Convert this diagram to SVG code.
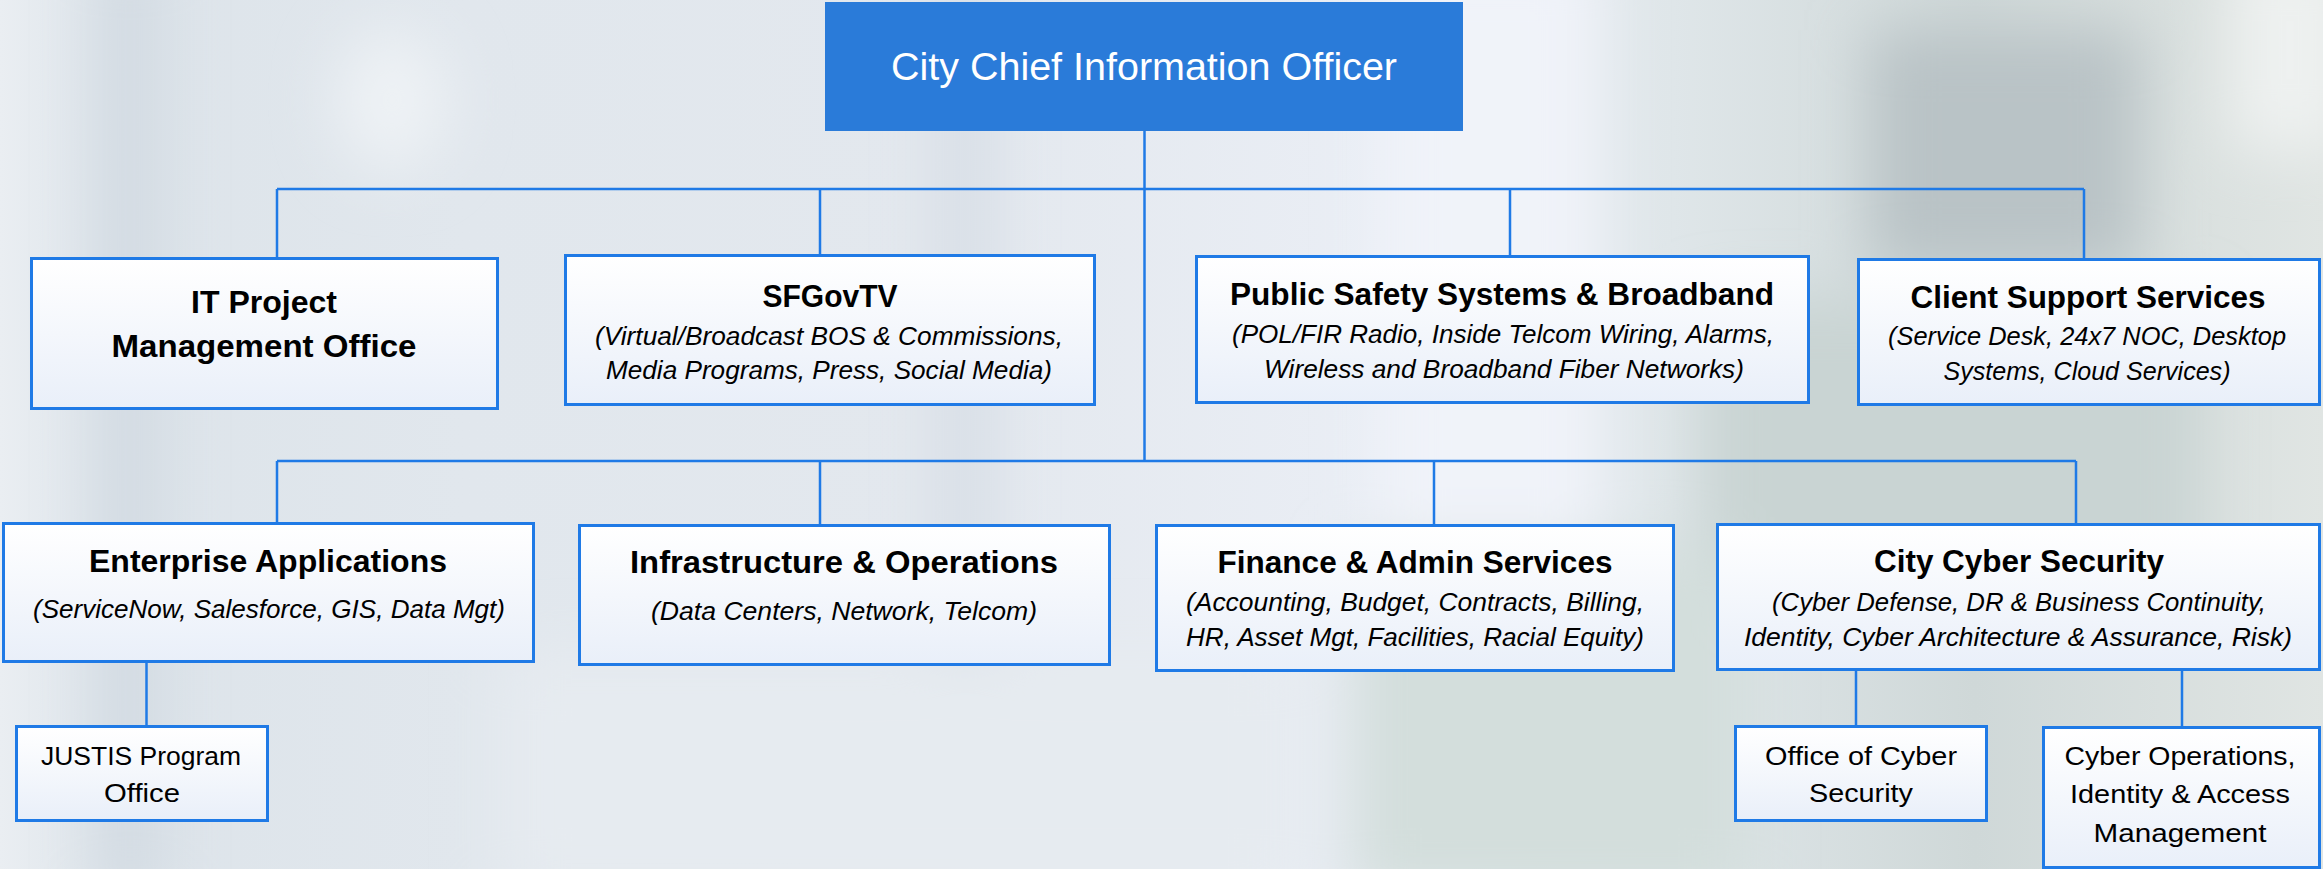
<svg xmlns="http://www.w3.org/2000/svg" width="2323" height="869" viewBox="0 0 2323 869">
<defs>
<linearGradient id="bg" x1="0" y1="0" x2="1" y2="0">
<stop offset="0" stop-color="#eaeef2"/>
<stop offset="0.05" stop-color="#dde4ea"/>
<stop offset="0.2" stop-color="#e1e7ed"/>
<stop offset="0.4" stop-color="#e3e8ee"/>
<stop offset="0.6" stop-color="#eaeef5"/>
<stop offset="0.72" stop-color="#dfe6e9"/>
<stop offset="0.85" stop-color="#cfd8d8"/>
<stop offset="1" stop-color="#e0e5e3"/>
</linearGradient>
<linearGradient id="boxfill" x1="0" y1="0" x2="0" y2="1">
<stop offset="0" stop-color="#ffffff"/>
<stop offset="1" stop-color="#e9eff9"/>
</linearGradient>
<filter id="blur" x="-20%" y="-20%" width="140%" height="140%">
<feGaussianBlur stdDeviation="30"/>
</filter>
<style>
.box{fill:url(#boxfill);stroke:#1f7ae6;stroke-width:3}
.conn{stroke:#1f7ae6;stroke-width:2.5;fill:none}
.t{font-family:"Liberation Sans",Arial,sans-serif;fill:#000;text-anchor:middle}
.b{font-weight:bold;font-size:32px}
.i{font-style:italic;font-size:26px}
.r{font-size:26.5px}
.cio{font-family:"Liberation Sans",Arial,sans-serif;fill:#fff;font-size:38px;text-anchor:middle}
</style>
</defs>
<g id="background">
<rect x="0" y="0" width="2323" height="869" fill="url(#bg)"/>
<g filter="url(#blur)">
<rect x="100" y="-50" width="60" height="950" fill="#d2dae2"/>
<ellipse cx="392" cy="100" rx="55" ry="70" fill="#eef2f5"/>
<rect x="940" y="-50" width="50" height="950" fill="#d6dde5"/>
<rect x="1380" y="-50" width="220" height="700" fill="#f0f3f9"/>
<rect x="1870" y="30" width="270" height="240" fill="#b9c3c6"/>
<rect x="1700" y="300" width="500" height="300" fill="#c9d4d3"/>
<rect x="1350" y="550" width="400" height="350" fill="#d3dedc"/>
<rect x="2230" y="-50" width="120" height="200" fill="#eef1f0"/>
<rect x="500" y="650" width="800" height="250" fill="#e6ebf0"/>
</g>
</g>
<g id="connectors">
<path class="conn" d="M1144.5 131V461"/>
<path class="conn" d="M277 189H2084"/>
<path class="conn" d="M277 189V257M820 189V254M1510 189V255M2084 189V258"/>
<path class="conn" d="M277 461H2076"/>
<path class="conn" d="M277 461V522M820 461V524M1434 461V524M2076 461V523"/>
<path class="conn" d="M146.5 663V725"/>
<path class="conn" d="M1856 671V725M2182 671V726"/>
</g>
<g id="cio">
<rect x="825" y="2" width="638" height="129" fill="#2a7bd9"/>
<text class="cio" x="1144" y="80" textLength="506" lengthAdjust="spacingAndGlyphs">City Chief Information Officer</text>
</g>
<g id="it-pmo">
<rect class="box" x="31.5" y="258.5" width="466" height="150"/>
<text class="t b" x="264" y="313" textLength="146" lengthAdjust="spacingAndGlyphs">IT Project</text>
<text class="t b" x="264" y="357" textLength="305" lengthAdjust="spacingAndGlyphs">Management Office</text>
</g>
<g id="sfgovtv">
<rect class="box" x="565.5" y="255.5" width="529" height="149"/>
<text class="t b" x="830" y="307" textLength="135" lengthAdjust="spacingAndGlyphs">SFGovTV</text>
<text class="t i" x="829" y="345" textLength="468" lengthAdjust="spacingAndGlyphs">(Virtual/Broadcast BOS &amp; Commissions,</text>
<text class="t i" x="829" y="379" textLength="446" lengthAdjust="spacingAndGlyphs">Media Programs, Press, Social Media)</text>
</g>
<g id="public-safety">
<rect class="box" x="1196.5" y="256.5" width="612" height="146"/>
<text class="t b" x="1502" y="305" textLength="544" lengthAdjust="spacingAndGlyphs">Public Safety Systems &amp; Broadband</text>
<text class="t i" x="1503" y="343" textLength="542" lengthAdjust="spacingAndGlyphs">(POL/FIR Radio, Inside Telcom Wiring, Alarms,</text>
<text class="t i" x="1504" y="378" textLength="480" lengthAdjust="spacingAndGlyphs">Wireless and Broadband Fiber Networks)</text>
</g>
<g id="client-support">
<rect class="box" x="1858.5" y="259.5" width="461" height="145"/>
<text class="t b" x="2088" y="308" textLength="355" lengthAdjust="spacingAndGlyphs">Client Support Services</text>
<text class="t i" x="2087" y="345" textLength="398" lengthAdjust="spacingAndGlyphs">(Service Desk, 24x7 NOC, Desktop</text>
<text class="t i" x="2087" y="380" textLength="287" lengthAdjust="spacingAndGlyphs">Systems, Cloud Services)</text>
</g>
<g id="enterprise-apps">
<rect class="box" x="3.5" y="523.5" width="530" height="138"/>
<text class="t b" x="268" y="572" textLength="358" lengthAdjust="spacingAndGlyphs">Enterprise Applications</text>
<text class="t i" x="269" y="618" textLength="472" lengthAdjust="spacingAndGlyphs">(ServiceNow, Salesforce, GIS, Data Mgt)</text>
</g>
<g id="infrastructure">
<rect class="box" x="579.5" y="525.5" width="530" height="139"/>
<text class="t b" x="844" y="573" textLength="428" lengthAdjust="spacingAndGlyphs">Infrastructure &amp; Operations</text>
<text class="t i" x="844" y="620" textLength="386" lengthAdjust="spacingAndGlyphs">(Data Centers, Network, Telcom)</text>
</g>
<g id="finance">
<rect class="box" x="1156.5" y="525.5" width="517" height="145"/>
<text class="t b" x="1415" y="573" textLength="395" lengthAdjust="spacingAndGlyphs">Finance &amp; Admin Services</text>
<text class="t i" x="1415" y="611" textLength="458" lengthAdjust="spacingAndGlyphs">(Accounting, Budget, Contracts, Billing,</text>
<text class="t i" x="1415" y="646" textLength="458" lengthAdjust="spacingAndGlyphs">HR, Asset Mgt, Facilities, Racial Equity)</text>
</g>
<g id="cyber-security">
<rect class="box" x="1717.5" y="524.5" width="602" height="145"/>
<text class="t b" x="2019" y="572" textLength="290" lengthAdjust="spacingAndGlyphs">City Cyber Security</text>
<text class="t i" x="2019" y="611" textLength="494" lengthAdjust="spacingAndGlyphs">(Cyber Defense, DR &amp; Business Continuity,</text>
<text class="t i" x="2018" y="646" textLength="548" lengthAdjust="spacingAndGlyphs">Identity, Cyber Architecture &amp; Assurance, Risk)</text>
</g>
<g id="justis">
<rect class="box" x="16.5" y="726.5" width="251" height="94"/>
<text class="t r" x="141" y="765" textLength="200" lengthAdjust="spacingAndGlyphs">JUSTIS Program</text>
<text class="t r" x="142" y="802" textLength="76" lengthAdjust="spacingAndGlyphs">Office</text>
</g>
<g id="office-cyber">
<rect class="box" x="1735.5" y="726.5" width="251" height="94"/>
<text class="t r" x="1861" y="765" textLength="192" lengthAdjust="spacingAndGlyphs">Office of Cyber</text>
<text class="t r" x="1861" y="802" textLength="104" lengthAdjust="spacingAndGlyphs">Security</text>
</g>
<g id="cyber-ops">
<rect class="box" x="2043.5" y="727.5" width="276" height="140"/>
<text class="t r" x="2180" y="765" textLength="231" lengthAdjust="spacingAndGlyphs">Cyber Operations,</text>
<text class="t r" x="2180" y="803" textLength="220" lengthAdjust="spacingAndGlyphs">Identity &amp; Access</text>
<text class="t r" x="2180" y="842" textLength="173" lengthAdjust="spacingAndGlyphs">Management</text>
</g>
</svg>
